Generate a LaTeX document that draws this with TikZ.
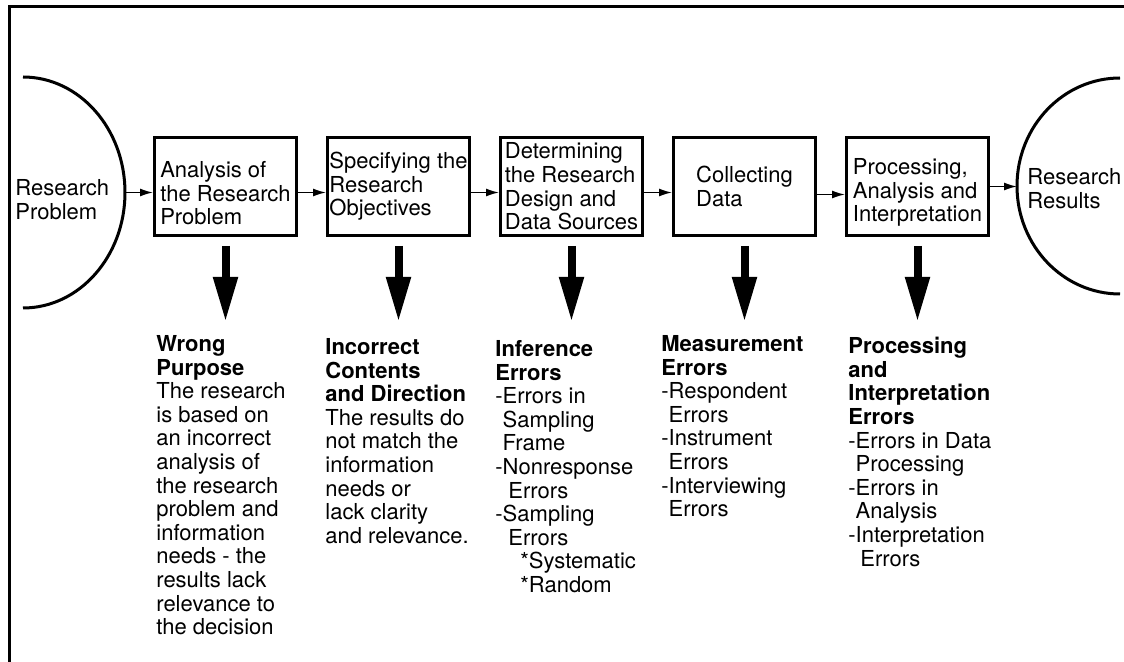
\documentclass[tikz,border=0pt]{standalone}
\usepackage{fontspec}
\setmainfont{TeX Gyre Heros}
\usetikzlibrary{arrows.meta, positioning}

\begin{document}
\begin{tikzpicture}[x=0.5pt, y=-0.5pt, >={Latex[length=6.5pt, width=4pt]},
    every node/.style={font=\fontsize{11}{11.8}\selectfont},
    stage/.style={draw, line width=1.5pt, minimum width=71pt, minimum height=49pt, inner sep=0pt, align=left},
    flow/.style={->, line width=0.75pt},
    drop/.style={-{Triangle[length=22.5pt, width=11.5pt]}, line width=4pt},
    errtext/.style={align=left, inner sep=0pt, anchor=north west}]
    % Marco (recortado a la derecha y abajo)
    \useasboundingbox (0,0) rectangle (1124,662);
    \draw[line width=1.5pt] (9,662) -- (9,6.5) -- (1124,6.5);

    % Semicirculos de inicio y fin
    \draw[line width=1.5pt] (23,77) arc[start angle=-90, end angle=90, x radius=102, y radius=115.5];
    \draw[line width=1.5pt] (1120,78) arc[start angle=270, end angle=90, x radius=103, y radius=108];
    \coordinate (probtip) at (125,192.5);
    \coordinate (restip) at (1017,186.5);
    \node[align=left, inner sep=0pt, anchor=west] (problem) at (15,199.5) {Research\\Problem};
    \node[align=left, inner sep=0pt, anchor=west] (results) at (1027,188.5) {Research\\Results};

    % Etapas del proceso
    \node[stage] (analysis) at (225.5,186.5) {\rule{0pt}{15pt}Analysis of\\the Research\\Problem};
    \node[stage, right=14pt of analysis] (objectives) {Specifying the\\Research\\Objectives};
    \node[stage, right=14pt of objectives] (design) {Determining\\the Research\\Design and\\Data Sources};
    \node[stage, right=14pt of design] (collect) {Collecting\\Data};
    \node[stage, right=14pt of collect] (process) {\rule{0pt}{14pt}Processing,\\Analysis and\\Interpretation};

    % Flechas entre etapas
    \draw[flow] (probtip) -- (analysis.west |- probtip);
    \draw[flow] ([yshift=-3pt]analysis.east) -- ([yshift=-3pt]objectives.west);
    \draw[flow] ([yshift=-3pt]objectives.east) -- ([yshift=-3pt]design.west);
    \draw[flow] ([yshift=-3pt]design.east) -- ([yshift=-3pt]collect.west);
    \draw[flow] ([yshift=-4pt]collect.east) -- ([yshift=-4pt]process.west);
    \draw[flow] (process.east) -- (restip);

    % Flechas gruesas hacia los errores
    \foreach \n in {analysis, objectives, design, collect, process}
        \draw[drop] ([yshift=-4.5pt]\n.south) -- ++(0,76);

    % Tipos de error
    \node[errtext] (purpose) at (156,335) {\textbf{Wrong}\\\textbf{Purpose}\\The research\\is based on\\an incorrect\\analysis of\\the research\\problem and\\information\\needs - the\\results lack\\relevance to\\the decision};
    \node[errtext] (contents) at (325,338) {\textbf{Incorrect}\\\textbf{Contents}\\\textbf{and Direction}\\The results do\\not match the\\information\\needs or\\lack clarity\\and relevance.};
    \node[errtext] (inference) at (495,340) {\textbf{Inference}\\\textbf{Errors}\\-Errors in\\\phantom{-}Sampling\\\phantom{-}Frame\\-Nonresponse\\\hspace*{6.5pt}Errors\\-Sampling\\\hspace*{6.5pt}Errors\\\hspace*{12.5pt}*Systematic\\\hspace*{12.5pt}*Random};
    \node[errtext] (measurement) at (661,335) {\textbf{Measurement}\\\textbf{Errors}\\-Respondent\\\phantom{-}Errors\\-Instrument\\\phantom{-}Errors\\-Interviewing\\\phantom{-}Errors};
    \node[errtext] (interpret) at (848,337) {\textbf{Processing}\\\textbf{and}\\\textbf{Interpretation}\\\textbf{Errors}\\-Errors in Data\\\phantom{-}Processing\\-Errors in\\\phantom{-}Analysis\\-Interpretation\\\hspace*{6pt}Errors};
\end{tikzpicture}
\end{document}
